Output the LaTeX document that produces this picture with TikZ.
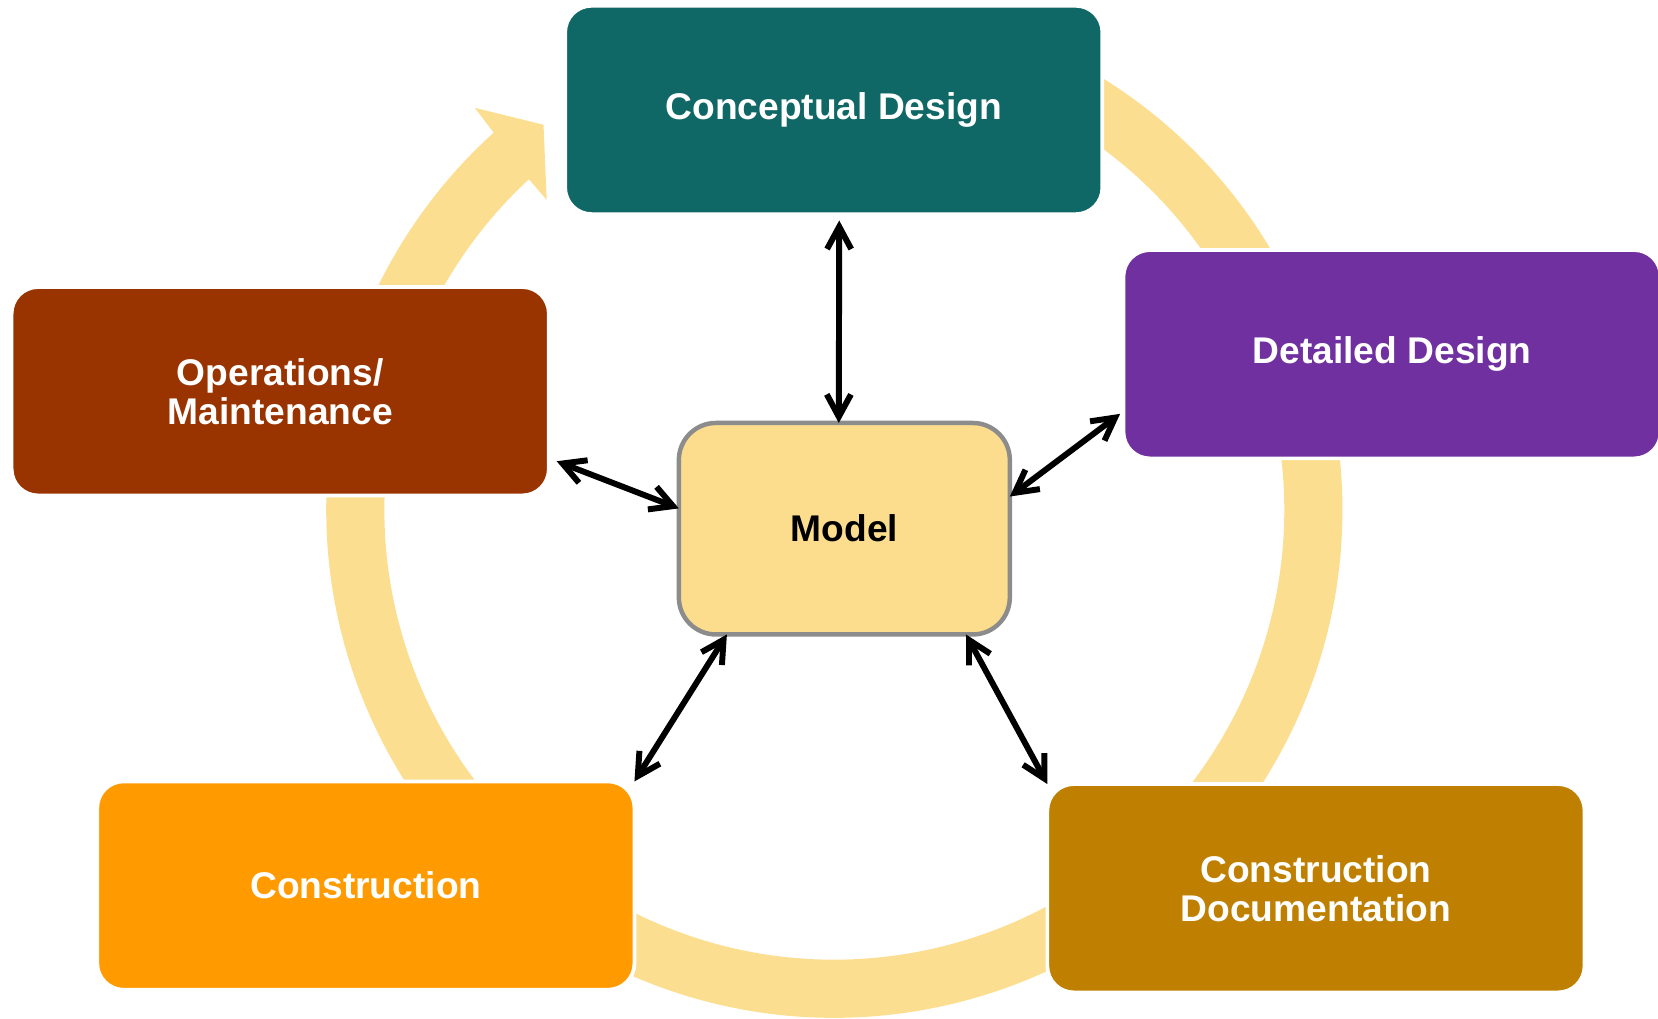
\documentclass[tikz,border=0pt]{standalone}
\usepackage{fontspec}
\setmainfont{Liberation Sans}
\usepackage{xcolor}
\usepackage{tikz}
\usetikzlibrary{arrows.meta}

\definecolor{concept}{RGB}{16,104,102}
\definecolor{detail}{RGB}{112,48,160}
\definecolor{operate}{RGB}{153,51,0}
\definecolor{build}{RGB}{255,155,0}
\definecolor{docs}{RGB}{191,127,0}
\definecolor{bandfill}{RGB}{252,222,144}
\definecolor{modelfill}{RGB}{252,221,142}

\begin{document}
\begin{tikzpicture}[
	thick,
	font=\bfseries\fontsize{10}{10.5}\selectfont
]
\tikzset{
    phase/.style = {rectangle, rounded corners=0.25cm, draw=white, line width=1pt, align=center, text=white, minimum width=5.08cm, minimum height=1.97cm, outer sep=0pt},
    hubbox/.style = {rectangle, rounded corners=0.35cm, draw=black!45, line width=1.2pt, fill=modelfill, align=center, minimum width=3.13cm, minimum height=2.0cm, outer sep=0pt},
    loopband/.style = {draw=bandfill, line width=0.55cm},
    link/.style = {{Straight Barb[length=6pt,width=6.5pt]}-{Straight Barb[length=6pt,width=6.5pt]}, line width=1.6pt, black}
}
\useasboundingbox (0,0) rectangle (15.68,9.63);
\coordinate (hub) at (7.89,4.81);
\draw[loopband] (hub) ++(60:4.53) arc[start angle=60, end angle=-228, radius=4.53];
\fill[bandfill] (4.49,8.61) -- (5.14,8.45) -- (5.17,7.74) -- (4.98,7.96) -- (4.65,8.40) -- cycle;
\node[phase,fill=concept] (concept) at (7.885,8.59) {Conceptual Design};
\node[phase,fill=detail] (detail) at (13.165,6.28) {Detailed Design};
\node[phase,fill=operate] (operate) at (2.65,5.93) {Operations/\\Maintenance};
\node[phase,fill=build] (build) at (3.46,1.255) {Construction};
\node[phase,fill=docs] (docs) at (12.445,1.23) {Construction\\Documentation};
\node[hubbox] (model) at (7.985,4.63) {Model};
\draw[link, shorten <=0.06cm] (concept.-87) -- (model.93);
\draw[link, shorten <=0.08cm] (operate.-14) -- (model.173);
\draw[link, shorten <=0.04cm] (detail.192) -- (model.11);
\draw[link] (build.north east) -- (model.222);
\draw[link] (docs.north west) -- (model.-41);
\end{tikzpicture}
\end{document}
